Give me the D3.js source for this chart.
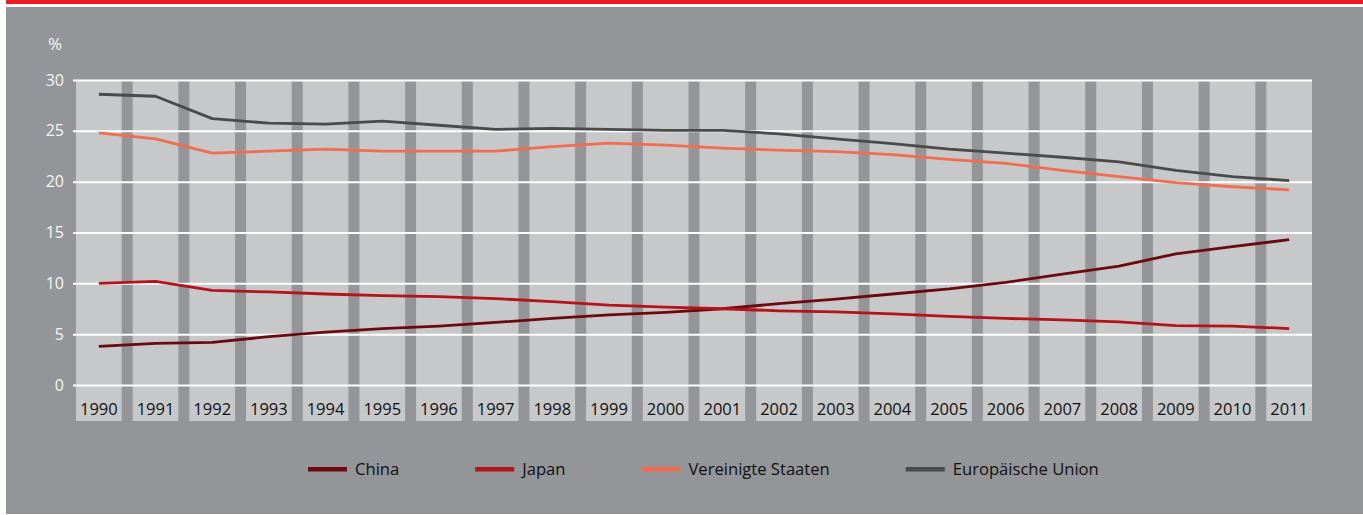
<!DOCTYPE html>
<html>
<head>
<meta charset="utf-8">
<script src="https://cdn.jsdelivr.net/npm/d3@7"></script>
<style>
  body { margin: 0; background: #fff; }
  svg { display: block; font-family: "Open Sans", sans-serif; }
</style>
</head>
<body>
<svg width="1363" height="515"></svg>
<script>
// Anteil am Welthandel (%), 1990-2011
const years = d3.range(1990, 2012).map(String);
const china = [3.8, 4.1, 4.2, 4.75, 5.2, 5.55, 5.8, 6.15, 6.55, 6.9, 7.15, 7.5, 8.0, 8.45, 8.95, 9.45, 10.1, 10.9, 11.7, 12.9, 13.6, 14.3];
const japan = [10.0, 10.2, 9.3, 9.15, 8.95, 8.8, 8.7, 8.5, 8.2, 7.85, 7.65, 7.5, 7.3, 7.2, 7.0, 6.75, 6.55, 6.4, 6.2, 5.85, 5.8, 5.55];
const usa = [24.8, 24.2, 22.8, 23.0, 23.2, 23.0, 23.0, 23.0, 23.45, 23.8, 23.6, 23.3, 23.1, 22.95, 22.65, 22.2, 21.8, 21.1, 20.5, 19.9, 19.5, 19.2];
const eu = [28.6, 28.4, 26.2, 25.75, 25.65, 25.95, 25.55, 25.15, 25.25, 25.15, 25.05, 25.05, 24.7, 24.2, 23.75, 23.2, 22.8, 22.4, 21.95, 21.1, 20.5, 20.1];
const seriesNames = ["China", "Japan", "Vereinigte Staaten", "Europäische Union"];
const yTicks = [0, 5, 10, 15, 20, 25, 30];

const colors = ["#6b0a0e", "#b5121b", "#f26d50", "#4a4a4c"];
const series = [china, japan, usa, eu].map((v, i) => ({ name: seriesNames[i], values: v, color: colors[i] }));

const svg = d3.select("svg");

// background panel + red top rule
svg.append("rect").attr("x", 6).attr("y", 0).attr("width", 1357).attr("height", 4).attr("fill", "#ed1c24");
svg.append("rect").attr("x", 6).attr("y", 7).attr("width", 1357).attr("height", 507).attr("fill", "#939598");

const x = d3.scaleBand().domain(years).range([76, 1312]).paddingInner(0.194).paddingOuter(0);
const y = d3.scaleLinear().domain([0, 30]).range([385, 80]);

// year columns
svg.append("g").selectAll("rect")
  .data(years)
  .join("rect")
  .attr("x", d => x(d))
  .attr("y", y(30))
  .attr("width", x.bandwidth())
  .attr("height", 421 - y(30))
  .attr("fill", "#c7c8ca");

// gridlines
svg.append("g")
  .attr("transform", "translate(73,0)")
  .call(d3.axisLeft(y).tickValues(yTicks).tickSize(-(1312 - 73)).tickFormat(""))
  .call(g => g.select(".domain").remove())
  .call(g => g.selectAll(".tick line").attr("stroke", "#fff").attr("stroke-width", 2));

// y labels
svg.append("g").selectAll("text")
  .data(yTicks)
  .join("text")
  .attr("x", 64)
  .attr("y", d => y(d))
  .attr("dy", "0.35em")
  .attr("text-anchor", "end")
  .attr("fill", "#f6f6f6")
  .attr("font-size", 16)
  .text(d => d);

svg.append("text")
  .attr("x", 55).attr("y", 44).attr("dy", "0.35em")
  .attr("text-anchor", "middle")
  .attr("fill", "#f6f6f6")
  .attr("font-size", 17)
  .text("%");

// year labels
svg.append("g").selectAll("text")
  .data(years)
  .join("text")
  .attr("x", d => x(d) + x.bandwidth() / 2)
  .attr("y", 409)
  .attr("dy", "0.35em")
  .attr("text-anchor", "middle")
  .attr("fill", "#111")
  .attr("font-size", 16.5)
  .attr("font-weight", 500)
  .text(d => d);

// lines
const line = d3.line()
  .x((d, i) => x(years[i]) + x.bandwidth() / 2)
  .y(d => y(d));

svg.append("g").selectAll("path")
  .data(series)
  .join("path")
  .attr("d", d => line(d.values))
  .attr("fill", "none")
  .attr("stroke", d => d.color)
  .attr("stroke-width", 2.8)
  .attr("stroke-linejoin", "round");

// legend
const legend = svg.append("g");
let lx = 308;
series.forEach(s => {
  legend.append("rect")
    .attr("x", lx).attr("y", 467).attr("width", 39).attr("height", 4.5)
    .attr("fill", s.color);
  const t = legend.append("text")
    .attr("x", lx + 47).attr("y", 469).attr("dy", "0.35em")
    .attr("fill", "#111")
    .attr("font-size", 16.6)
    .attr("font-weight", 500)
    .text(s.name);
  lx += 47 + t.node().getComputedTextLength() + 76;
});
</script>
</body>
</html>
